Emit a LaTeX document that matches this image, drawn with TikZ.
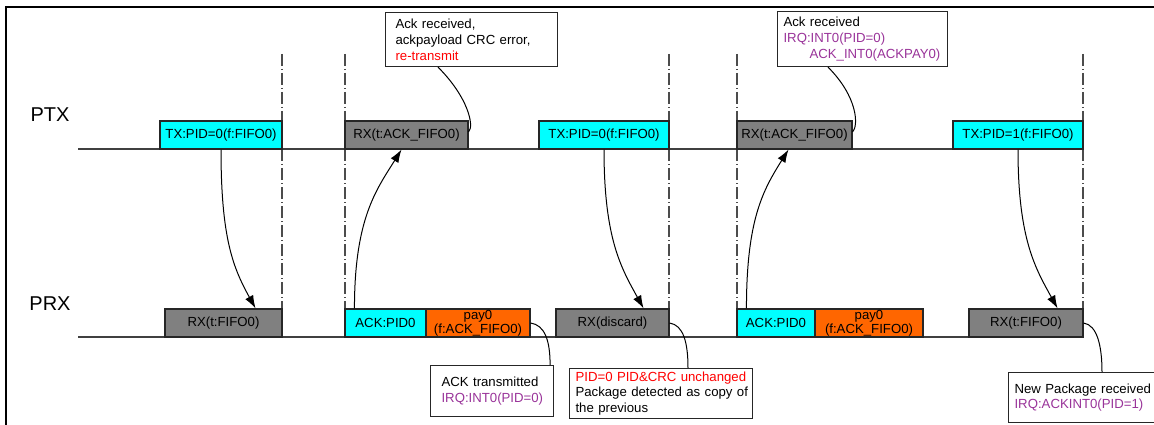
\documentclass[tikz,border=0pt]{standalone}
\usepackage{fontspec}
\setmainfont{Liberation Sans}
\usetikzlibrary{arrows.meta}
\definecolor{pkcyan}{RGB}{0,255,255}
\definecolor{pkgray}{RGB}{128,128,128}
\definecolor{pkorange}{RGB}{255,102,0}
\definecolor{irqpurple}{RGB}{153,51,153}
\definecolor{errred}{RGB}{255,0,0}

\begin{document}
\begin{tikzpicture}[x=1pt,y=-1pt]
            \tikzstyle{pkt}=[draw=black!85,line width=1.1pt,inner sep=0pt,minimum height=28pt,font=\fontsize{13.2}{14}\selectfont];
            \tikzstyle{tx pkt}=[pkt,fill=pkcyan];
            \tikzstyle{rx pkt}=[pkt,fill=pkgray];
            \tikzstyle{pay pkt}=[pkt,fill=pkorange,align=center];
            \tikzstyle{note}=[draw=black!85,line width=1.1pt,anchor=north west,align=left,inner ysep=0pt,font=\fontsize{13.2}{15.8}\selectfont];
            \tikzstyle{slot}=[black!70,line width=1.2pt,dash pattern=on 12pt off 3pt on 1pt off 3pt];
            \tikzstyle{air}=[-{Latex[length=13pt,width=9pt]},line width=1pt];
            \tikzstyle{lead}=[line width=1pt];
            \useasboundingbox (0,0) rectangle (1154,425);
            \draw[line width=2.2pt] (6,425)--(6,7)--(1154,7);
            % slot borders
            \foreach \x in {282,345,669,737,1083} \draw[slot] (\x,54)--(\x,337);
            \draw[black!75,line width=1.2pt] (78,149)--(1083,149);
            \draw[black!75,line width=1.2pt] (78,337)--(1083,337);
            \node[font=\fontsize{20}{24}\selectfont] (ptx) at (50,115) {PTX};
            \node[font=\fontsize{20}{24}\selectfont] (prx) at (50,304) {PRX};
            % PTX packets
            \node[tx pkt,minimum width=122pt] (tx1) at (221,135) {TX:PID=0(f:FIFO0)};
            \node[rx pkt,minimum width=123pt] (rx1) at (406.5,135) {RX(t:ACK\_FIFO0)};
            \node[tx pkt,minimum width=130pt] (tx2) at (604,135) {TX:PID=0(f:FIFO0)};
            \node[rx pkt,minimum width=115pt] (rx2) at (794.5,135) {RX(t:ACK\_FIFO0)};
            \node[tx pkt,minimum width=130pt] (tx3) at (1018,135) {TX:PID=1(f:FIFO0)};
            % PRX packets
            \node[rx pkt,minimum width=117pt] (prx1) at (223.5,323) {RX(t:FIFO0)};
            \node[tx pkt,minimum width=81pt] (ack1) at (385.5,323) {ACK:PID0};
            \node[pay pkt,minimum width=104pt] (pay1) at (478,323) {pay0\\(f:ACK\_FIFO0)};
            \node[rx pkt,minimum width=113pt] (disc) at (612.5,323) {RX(discard)};
            \node[tx pkt,minimum width=78pt] (ack2) at (776,323) {ACK:PID0};
            \node[pay pkt,minimum width=108pt] (pay2) at (869,323) {pay0\\(f:ACK\_FIFO0)};
            \node[rx pkt,minimum width=114pt] (prx3) at (1026,323) {RX(t:FIFO0)};
            % notes
            \node[note,inner xsep=10pt,text width=152pt,minimum height=54pt] (ackerr) at (385,12) {\mbox{Ack received,}\\\mbox{ackpayload CRC error,}\\\textcolor{errred}{re-transmit}};
            \node[note,inner xsep=6pt,text width=158pt,minimum height=55pt] (ackok) at (777,11) {Ack received\\\textcolor{irqpurple}{IRQ:INT0(PID=0)}\\\hspace*{26pt}\textcolor{irqpurple}{ACK\_INT0(ACKPAY0)}};
            \node[note,inner xsep=11pt,text width=101pt,minimum height=51pt] (acktx) at (430,365) {\mbox{ACK transmitted}\\\textcolor{irqpurple}{IRQ:INT0(PID=0)}};
            \node[note,inner xsep=6pt,text width=171pt,minimum height=50pt] (dupnote) at (569,368) {\textcolor{errred}{\mbox{PID=0 PID\&CRC unchanged}}\\\mbox{Package detected as copy of}\\the previous};
            \node[note,inner xsep=6pt,text width=146pt,minimum height=50pt] (newnote) at (1008,372) {\mbox{New Package received}\\\textcolor{irqpurple}{IRQ:ACKINT0(PID=1)}};
            % air traffic
            \draw[air] (tx1.south) .. controls +(0,90) and +(-22,-40) .. ([xshift=-27pt]prx1.north east);
            \draw[air] ([xshift=10pt]ack1.north west) .. controls +(0,-90) and +(-25,40) .. ([xshift=-5pt]rx1.south);
            \draw[air] (tx2.south) .. controls +(0,90) and +(-22,-40) .. ([xshift=-26pt]disc.north east);
            \draw[air] ([xshift=10pt]ack2.north west) .. controls +(0,-90) and +(-25,40) .. ([xshift=-6pt]rx2.south);
            \draw[air] (tx3.south) .. controls +(0,90) and +(-22,-40) .. ([xshift=-26pt]prx3.north east);
            % note leads
            \draw[lead] ([xshift=53pt]ackerr.south west) .. controls +(30,30) and +(6,-6) .. ([yshift=3pt]rx1.east);
            \draw[lead] ([xshift=51pt]ackok.south west) .. controls +(30,30) and +(6,-6) .. ([yshift=3pt]rx2.east);
            \draw[lead] (pay1.east) .. controls +(14,2) and +(0,-25) .. ([xshift=-4pt]acktx.north east);
            \draw[lead] (disc.east) .. controls +(14,2) and +(0,-25) .. ([xshift=119pt]dupnote.north west);
            \draw[lead] (prx3.east) .. controls +(14,2) and +(0,-25) .. ([xshift=94pt]newnote.north west);
\end{tikzpicture}
\end{document}
